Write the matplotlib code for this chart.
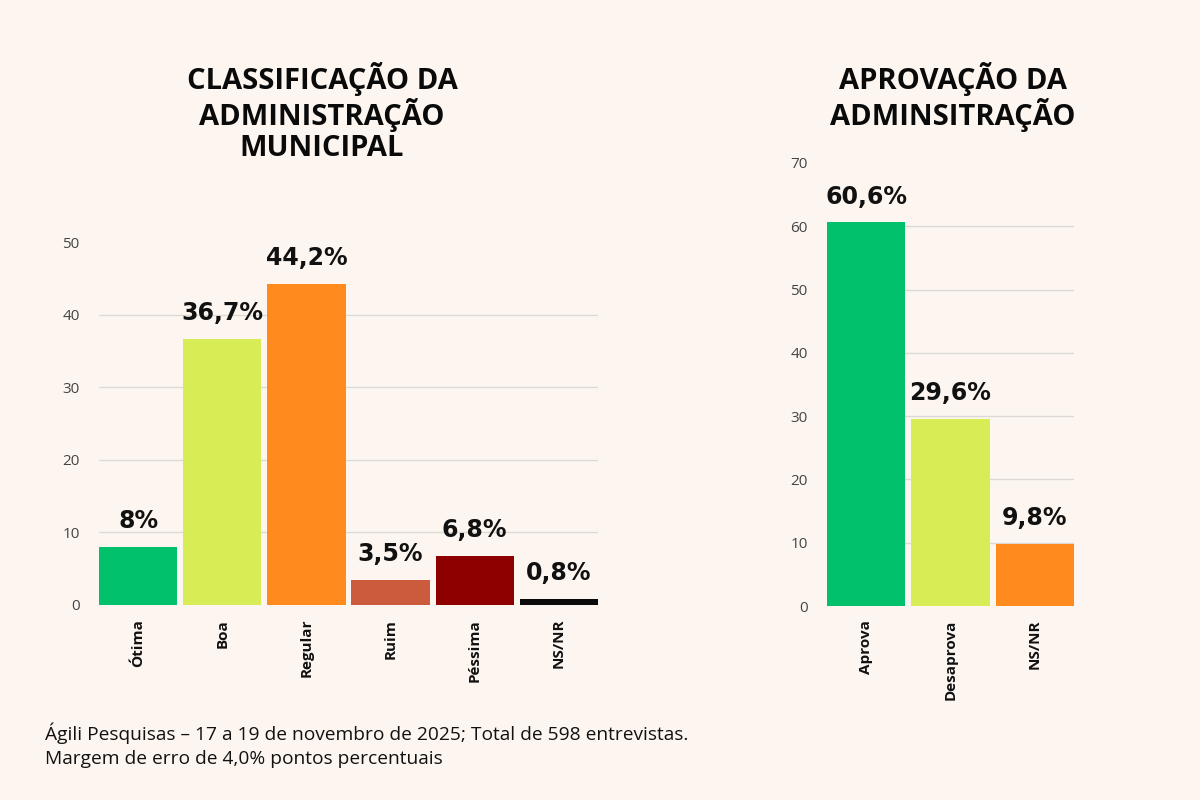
import matplotlib
matplotlib.use("Agg")
import matplotlib.pyplot as plt

# Data
class_categories = ["Ótima", "Boa", "Regular", "Ruim", "Péssima", "NS/NR"]
class_values = [8.0, 36.7, 44.2, 3.5, 6.8, 0.8]
class_labels = ["8%", "36,7%", "44,2%", "3,5%", "6,8%", "0,8%"]
class_colors = ["#02C16C", "#D7EC55", "#FF8A1D", "#CB5B3C", "#8E0000", "#0A0A0A"]
class_yticks = [0, 10, 20, 30, 40, 50]

apr_categories = ["Aprova", "Desaprova", "NS/NR"]
apr_values = [60.6, 29.6, 9.8]
apr_labels = ["60,6%", "29,6%", "9,8%"]
apr_colors = ["#02C16C", "#D7EC55", "#FF8A1D"]
apr_yticks = [0, 10, 20, 30, 40, 50, 60, 70]

title_left = "CLASSIFICAÇÃO DA\nADMINISTRAÇÃO\nMUNICIPAL"
title_right = "APROVAÇÃO DA\nADMINSITRAÇÃO"
footer = ("Ágili Pesquisas – 17 a 19 de novembro de 2025; Total de 598 entrevistas.\n"
          "Margem de erro de 4,0% pontos percentuais")

BG = "#FDF6F0"
plt.rcParams['font.family'] = ["Open Sans", "DejaVu Sans"]

fig = plt.figure(figsize=(12, 8), dpi=100, facecolor=BG)

def draw(ax, cats, vals, labels, colors, yticks, width):
    ax.set_facecolor(BG)
    x = list(range(len(cats)))
    ax.bar(x, vals, width=width, color=colors, zorder=3)
    ax.set_xlim(-width / 2, len(cats) - 1 + width / 2)
    ax.set_ylim(yticks[0], yticks[-1])
    ax.set_yticks(yticks)
    ax.set_yticklabels([str(t) for t in yticks], fontsize=11, color="#444444")
    ax.set_xticks(x)
    ax.set_xticklabels(cats, rotation=90, fontsize=11, fontweight="bold", color="#111111")
    ax.tick_params(axis="both", length=0)
    ax.tick_params(axis="y", pad=14)
    ax.tick_params(axis="x", pad=10)
    for s in ax.spines.values():
        s.set_visible(False)
    for t in yticks[1:-1]:
        ax.axhline(t, color="#DDDAD6", lw=1.0, zorder=1)
    for xi, v, lab in zip(x, vals, labels):
        ax.annotate(lab, (xi, v), xytext=(0, 10), textcoords="offset points",
                    ha="center", va="bottom", fontsize=17, fontweight="bold",
                    family=["DejaVu Sans"], color="#111111", zorder=4)

axL = fig.add_axes([99 / 1200, 1 - 605 / 800, (598 - 99) / 1200, (605 - 242) / 800])
draw(axL, class_categories, class_values, class_labels, class_colors, class_yticks, 0.93)

axR = fig.add_axes([827 / 1200, 1 - 606 / 800, (1074 - 827) / 1200, (606 - 163) / 800])
draw(axR, apr_categories, apr_values, apr_labels, apr_colors, apr_yticks, 0.93)

fig.text(322 / 1200, 1 - 62 / 800, title_left, ha="center", va="top", fontsize=21,
         fontweight="bold", linespacing=1.08, color="#0A0A0A")
fig.text(953 / 1200, 1 - 62 / 800, title_right, ha="center", va="top", fontsize=21,
         fontweight="bold", linespacing=1.08, color="#0A0A0A")
fig.text(45 / 1200, 1 - 723 / 800, footer, ha="left", va="top", fontsize=13.8,
         linespacing=1.4, color="#111111")

fig.savefig("out.png", dpi=100, facecolor=BG)
